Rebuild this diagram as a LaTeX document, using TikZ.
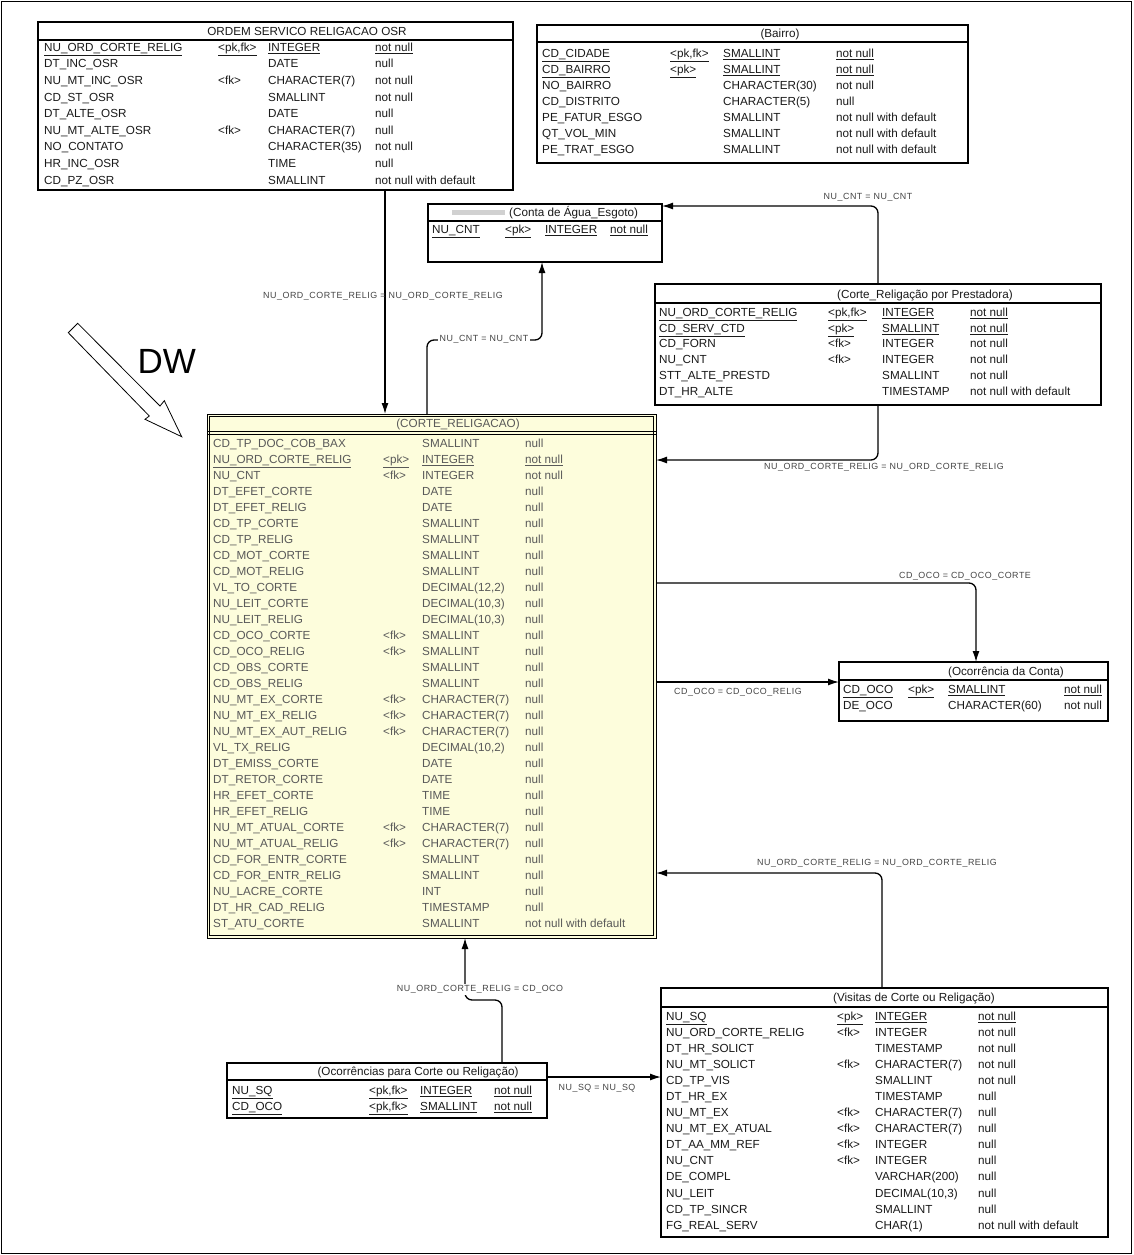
\documentclass[tikz,border=0pt]{standalone}
\usepackage{fontspec}
\setmainfont{Liberation Sans}
\newfontfamily\lblfamily[LetterSpace=6.0]{Liberation Sans}
\usetikzlibrary{arrows.meta}
\definecolor{cream}{HTML}{FDFDDC}
\definecolor{tabtext}{HTML}{1A1A1A}
\definecolor{maintext}{HTML}{595959}
\definecolor{lbltext}{HTML}{454545}
\newcommand\tabfont{\fontsize{11.7}{13}\selectfont}
\newcommand\lblfont{\lblfamily\fontsize{8.9}{9.5}\selectfont}
\newcommand\dwfont{\fontsize{35}{37}\selectfont}
\newcommand\uln[1]{\underline{#1}}
\newcommand\trow[6]{%
  \node[cell] (#1a) at (\cA,#2) {#3};
  \node[cell] (#1b) at (\cB,#2) {#4};
  \node[cell] (#1c) at (\cC,#2) {#5};
  \node[cell] (#1d) at (\cD,#2) {#6};}
\begin{document}
\begin{tikzpicture}[x=1pt,y=-1pt,
  cell/.style={anchor=west,inner sep=0pt,font=\tabfont,text=tabtext,text height=8.4pt,text depth=0pt},
  ttl/.style={inner sep=0pt,font=\tabfont,text=tabtext,text height=8.4pt,text depth=0pt},
  tbox/.style={draw=black,line width=1.2pt,fill=white,anchor=north west,inner sep=0pt,outer sep=0pt},
  sepline/.style={line width=1.1pt},
  conn/.style={line width=1.3pt,rounded corners=7pt,-{Latex[length=11pt,width=7pt]}},
  lbl/.style={font=\lblfont,text=lbltext,inner sep=1.5pt},
  lblw/.style={lbl,fill=white}]
\useasboundingbox (0,0) rectangle (1133,1255);
\draw[line width=1pt] (1.5,1.5) rectangle (1131.5,1253.5);

% ---------- boxes ----------
\node[tbox,minimum width=475pt,minimum height=168pt] (osr) at (38,22) {};
\node[tbox,minimum width=431pt,minimum height=138pt] (bai) at (537,25) {};
\node[tbox,minimum width=234pt,minimum height=58pt] (conta) at (428,204) {};
\node[tbox,minimum width=446pt,minimum height=121pt] (prest) at (655,284) {};
\node[tbox,fill=cream,line width=1pt,minimum width=449pt,minimum height=524pt] (main) at (207,414) {};
\draw[line width=0.9pt] ([shift={(2.5pt,-2.5pt)}]main.north west) rectangle ([shift={(-2.5pt,2.5pt)}]main.south east);
\node[tbox,minimum width=269pt,minimum height=59pt] (ocon) at (839,662) {};
\node[tbox,minimum width=447pt,minimum height=249pt] (vis) at (661,988) {};
\node[tbox,minimum width=320pt,minimum height=55pt] (ocp) at (227,1063) {};

% separators
\draw[sepline] (38,40) -- (513,40);
\draw[sepline] (537,42) -- (968,42);
\draw[sepline] (428,221) -- (662,221);
\draw[sepline] (655,303) -- (1101,303);
\draw[line width=0.9pt] (207,431.5) -- (656,431.5);
\draw[line width=0.9pt] (207,434) -- (656,434);
\draw[sepline] (839,680) -- (1108,680);
\draw[sepline] (661,1007) -- (1108,1007);
\draw[sepline] (227,1080) -- (547,1080);

% ---------- connectors ----------
\draw[conn] (osr.south -| 385,0) -- (main.north -| 385,0);
\draw[conn] (main.north -| 427,0) -- (427,340) -- (542,340) -- (conta.south -| 542,0);
\draw[conn] (prest.north -| 878,0) -- (878,206) -- (conta.east |- 0,206);
\draw[conn] (prest.south -| 878,0) -- (878,460) -- (main.east |- 0,460);
\draw[conn] (main.east |- 0,583) -- (976,583) -- (ocon.north -| 976,0);
\draw[conn] (main.east |- 0,682) -- (ocon.west |- 0,682);
\draw[conn] (vis.north -| 882,0) -- (882,873) -- (main.east |- 0,873);
\draw[conn] (ocp.north -| 502,0) -- (502,1000) -- (465,1000) -- (main.south -| 465,0);
\draw[conn] (ocp.east |- 0,1077) -- (vis.west |- 0,1077);

\node[lbl] (l1) at (383,296) {NU\_ORD\_CORTE\_RELIG = NU\_ORD\_CORTE\_RELIG};
\node[lblw] (l2) at (484,339) {NU\_CNT = NU\_CNT};
\node[lbl] (l3) at (868,197) {NU\_CNT = NU\_CNT};
\node[lbl] (l4) at (884,467) {NU\_ORD\_CORTE\_RELIG = NU\_ORD\_CORTE\_RELIG};
\node[lbl] (l5) at (965,576) {CD\_OCO = CD\_OCO\_CORTE};
\node[lbl] (l6) at (738,692) {CD\_OCO = CD\_OCO\_RELIG};
\node[lbl] (l7) at (877,863) {NU\_ORD\_CORTE\_RELIG = NU\_ORD\_CORTE\_RELIG};
\node[lblw] (l8) at (480,989) {NU\_ORD\_CORTE\_RELIG = CD\_OCO};
\node[lbl] (l9) at (597,1088) {NU\_SQ = NU\_SQ};

% ---------- DW arrow ----------
\draw[line width=0.8pt,fill=white] (77.7,323.3) -- (160,406) -- (164.3,400.7) -- (181.7,436.7) -- (145,419.3) -- (149.3,416) -- (68.3,332.7) -- cycle;
\node[font=\dwfont,inner sep=0pt] (dw) at (166.7,361) {DW};

% ---------- ORDEM SERVICO RELIGACAO OSR ----------
\node[ttl] (osrt) at (307,31) {ORDEM SERVICO RELIGACAO OSR};
\def\cA{44}\def\cB{218}\def\cC{268}\def\cD{375}
\trow{o1}{47}{\uln{NU\_ORD\_CORTE\_RELIG}}{\uln{<pk,fk>}}{\uln{INTEGER}}{\uln{not null}}
\trow{o2}{63.6}{DT\_INC\_OSR}{}{DATE}{null}
\trow{o3}{80.2}{NU\_MT\_INC\_OSR}{<fk>}{CHARACTER(7)}{not null}
\trow{o4}{96.8}{CD\_ST\_OSR}{}{SMALLINT}{not null}
\trow{o5}{113.4}{DT\_ALTE\_OSR}{}{DATE}{null}
\trow{o6}{130}{NU\_MT\_ALTE\_OSR}{<fk>}{CHARACTER(7)}{null}
\trow{o7}{146.6}{NO\_CONTATO}{}{CHARACTER(35)}{not null}
\trow{o8}{163.2}{HR\_INC\_OSR}{}{TIME}{null}
\trow{o9}{179.8}{CD\_PZ\_OSR}{}{SMALLINT}{not null with default}

% ---------- Bairro ----------
\node[ttl] (bait) at (780,33) {(Bairro)};
\def\cA{542}\def\cB{670}\def\cC{723}\def\cD{836}
\trow{b1}{53}{\uln{CD\_CIDADE}}{\uln{<pk,fk>}}{\uln{SMALLINT}}{\uln{not null}}
\trow{b2}{69}{\uln{CD\_BAIRRO}}{\uln{<pk>}}{\uln{SMALLINT}}{\uln{not null}}
\trow{b3}{85}{NO\_BAIRRO}{}{CHARACTER(30)}{not null}
\trow{b4}{101}{CD\_DISTRITO}{}{CHARACTER(5)}{null}
\trow{b5}{117}{PE\_FATUR\_ESGO}{}{SMALLINT}{not null with default}
\trow{b6}{133}{QT\_VOL\_MIN}{}{SMALLINT}{not null with default}
\trow{b7}{149.5}{PE\_TRAT\_ESGO}{}{SMALLINT}{not null with default}

% ---------- Conta ----------
\fill[black!18] (452,210) rectangle (505,214.5);
\node[ttl,anchor=west] (contat) at (509,212) {(Conta de Água\_Esgoto)};
\def\cA{432}\def\cB{505}\def\cC{545}\def\cD{610}
\trow{c1}{229}{\uln{NU\_CNT}}{\uln{<pk>}}{\uln{INTEGER}}{\uln{not null}}

% ---------- Prestadora ----------
\node[ttl] (prestt) at (925,294) {(Corte\_Religação por Prestadora)};
\def\cA{659}\def\cB{828}\def\cC{882}\def\cD{970}
\trow{p1}{312}{\uln{NU\_ORD\_CORTE\_RELIG}}{\uln{<pk,fk>}}{\uln{INTEGER}}{\uln{not null}}
\trow{p2}{328}{\uln{CD\_SERV\_CTD}}{\uln{<pk>}}{\uln{SMALLINT}}{\uln{not null}}
\trow{p3}{343.5}{CD\_FORN}{<fk>}{INTEGER}{not null}
\trow{p4}{359.5}{NU\_CNT}{<fk>}{INTEGER}{not null}
\trow{p5}{375}{STT\_ALTE\_PRESTD}{}{SMALLINT}{not null}
\trow{p6}{391}{DT\_HR\_ALTE}{}{TIMESTAMP}{not null with default}

% ---------- CORTE_RELIGACAO ----------
\begin{scope}[cell/.append style={text=maintext},ttl/.append style={text=maintext}]
\node[ttl] (maint) at (458,423) {(CORTE\_RELIGACAO)};
\def\cA{213}\def\cB{383}\def\cC{422}\def\cD{525}
\trow{m01}{443}{CD\_TP\_DOC\_COB\_BAX}{}{SMALLINT}{null}
\trow{m02}{459}{\uln{NU\_ORD\_CORTE\_RELIG}}{\uln{<pk>}}{\uln{INTEGER}}{\uln{not null}}
\trow{m03}{475}{NU\_CNT}{<fk>}{INTEGER}{not null}
\trow{m04}{491}{DT\_EFET\_CORTE}{}{DATE}{null}
\trow{m05}{507}{DT\_EFET\_RELIG}{}{DATE}{null}
\trow{m06}{523}{CD\_TP\_CORTE}{}{SMALLINT}{null}
\trow{m07}{539}{CD\_TP\_RELIG}{}{SMALLINT}{null}
\trow{m08}{555}{CD\_MOT\_CORTE}{}{SMALLINT}{null}
\trow{m09}{571}{CD\_MOT\_RELIG}{}{SMALLINT}{null}
\trow{m10}{587}{VL\_TO\_CORTE}{}{DECIMAL(12,2)}{null}
\trow{m11}{603}{NU\_LEIT\_CORTE}{}{DECIMAL(10,3)}{null}
\trow{m12}{619}{NU\_LEIT\_RELIG}{}{DECIMAL(10,3)}{null}
\trow{m13}{635}{CD\_OCO\_CORTE}{<fk>}{SMALLINT}{null}
\trow{m14}{651}{CD\_OCO\_RELIG}{<fk>}{SMALLINT}{null}
\trow{m15}{667}{CD\_OBS\_CORTE}{}{SMALLINT}{null}
\trow{m16}{683}{CD\_OBS\_RELIG}{}{SMALLINT}{null}
\trow{m17}{699}{NU\_MT\_EX\_CORTE}{<fk>}{CHARACTER(7)}{null}
\trow{m18}{715}{NU\_MT\_EX\_RELIG}{<fk>}{CHARACTER(7)}{null}
\trow{m19}{731}{NU\_MT\_EX\_AUT\_RELIG}{<fk>}{CHARACTER(7)}{null}
\trow{m20}{747}{VL\_TX\_RELIG}{}{DECIMAL(10,2)}{null}
\trow{m21}{763}{DT\_EMISS\_CORTE}{}{DATE}{null}
\trow{m22}{779}{DT\_RETOR\_CORTE}{}{DATE}{null}
\trow{m23}{795}{HR\_EFET\_CORTE}{}{TIME}{null}
\trow{m24}{811}{HR\_EFET\_RELIG}{}{TIME}{null}
\trow{m25}{827}{NU\_MT\_ATUAL\_CORTE}{<fk>}{CHARACTER(7)}{null}
\trow{m26}{843}{NU\_MT\_ATUAL\_RELIG}{<fk>}{CHARACTER(7)}{null}
\trow{m27}{859}{CD\_FOR\_ENTR\_CORTE}{}{SMALLINT}{null}
\trow{m28}{875}{CD\_FOR\_ENTR\_RELIG}{}{SMALLINT}{null}
\trow{m29}{891}{NU\_LACRE\_CORTE}{}{INT}{null}
\trow{m30}{907}{DT\_HR\_CAD\_RELIG}{}{TIMESTAMP}{null}
\trow{m31}{923}{ST\_ATU\_CORTE}{}{SMALLINT}{not null with default}
\end{scope}

% ---------- Ocorrencia da Conta ----------
\node[ttl] (ocont) at (1006,671) {(Ocorrência da Conta)};
\def\cA{843}\def\cB{908}\def\cC{948}\def\cD{1064}
\trow{k1}{689}{\uln{CD\_OCO}}{\uln{<pk>}}{\uln{SMALLINT}}{\uln{not null}}
\trow{k2}{705}{DE\_OCO}{}{CHARACTER(60)}{not null}

% ---------- Visitas ----------
\node[ttl] (vist) at (914,997) {(Visitas de Corte ou Religação)};
\def\cA{666}\def\cB{837}\def\cC{875}\def\cD{978}
\trow{v01}{1016}{\uln{NU\_SQ}}{\uln{<pk>}}{\uln{INTEGER}}{\uln{not null}}
\trow{v02}{1032}{NU\_ORD\_CORTE\_RELIG}{<fk>}{INTEGER}{not null}
\trow{v03}{1048}{DT\_HR\_SOLICT}{}{TIMESTAMP}{not null}
\trow{v04}{1064}{NU\_MT\_SOLICT}{<fk>}{CHARACTER(7)}{not null}
\trow{v05}{1080}{CD\_TP\_VIS}{}{SMALLINT}{not null}
\trow{v06}{1096}{DT\_HR\_EX}{}{TIMESTAMP}{null}
\trow{v07}{1112.5}{NU\_MT\_EX}{<fk>}{CHARACTER(7)}{null}
\trow{v08}{1128.5}{NU\_MT\_EX\_ATUAL}{<fk>}{CHARACTER(7)}{null}
\trow{v09}{1144.5}{DT\_AA\_MM\_REF}{<fk>}{INTEGER}{null}
\trow{v10}{1160.5}{NU\_CNT}{<fk>}{INTEGER}{null}
\trow{v11}{1176.5}{DE\_COMPL}{}{VARCHAR(200)}{null}
\trow{v12}{1193}{NU\_LEIT}{}{DECIMAL(10,3)}{null}
\trow{v13}{1209}{CD\_TP\_SINCR}{}{SMALLINT}{null}
\trow{v14}{1225}{FG\_REAL\_SERV}{}{CHAR(1)}{not null with default}

% ---------- Ocorrencias para Corte ou Religacao ----------
\node[ttl] (ocpt) at (418,1071) {(Ocorrências para Corte ou Religação)};
\def\cA{232}\def\cB{369}\def\cC{420}\def\cD{494}
\trow{q1}{1090}{\uln{NU\_SQ}}{\uln{<pk,fk>}}{\uln{INTEGER}}{\uln{not null}}
\trow{q2}{1106}{\uln{CD\_OCO}}{\uln{<pk,fk>}}{\uln{SMALLINT}}{\uln{not null}}
\end{tikzpicture}
\end{document}
